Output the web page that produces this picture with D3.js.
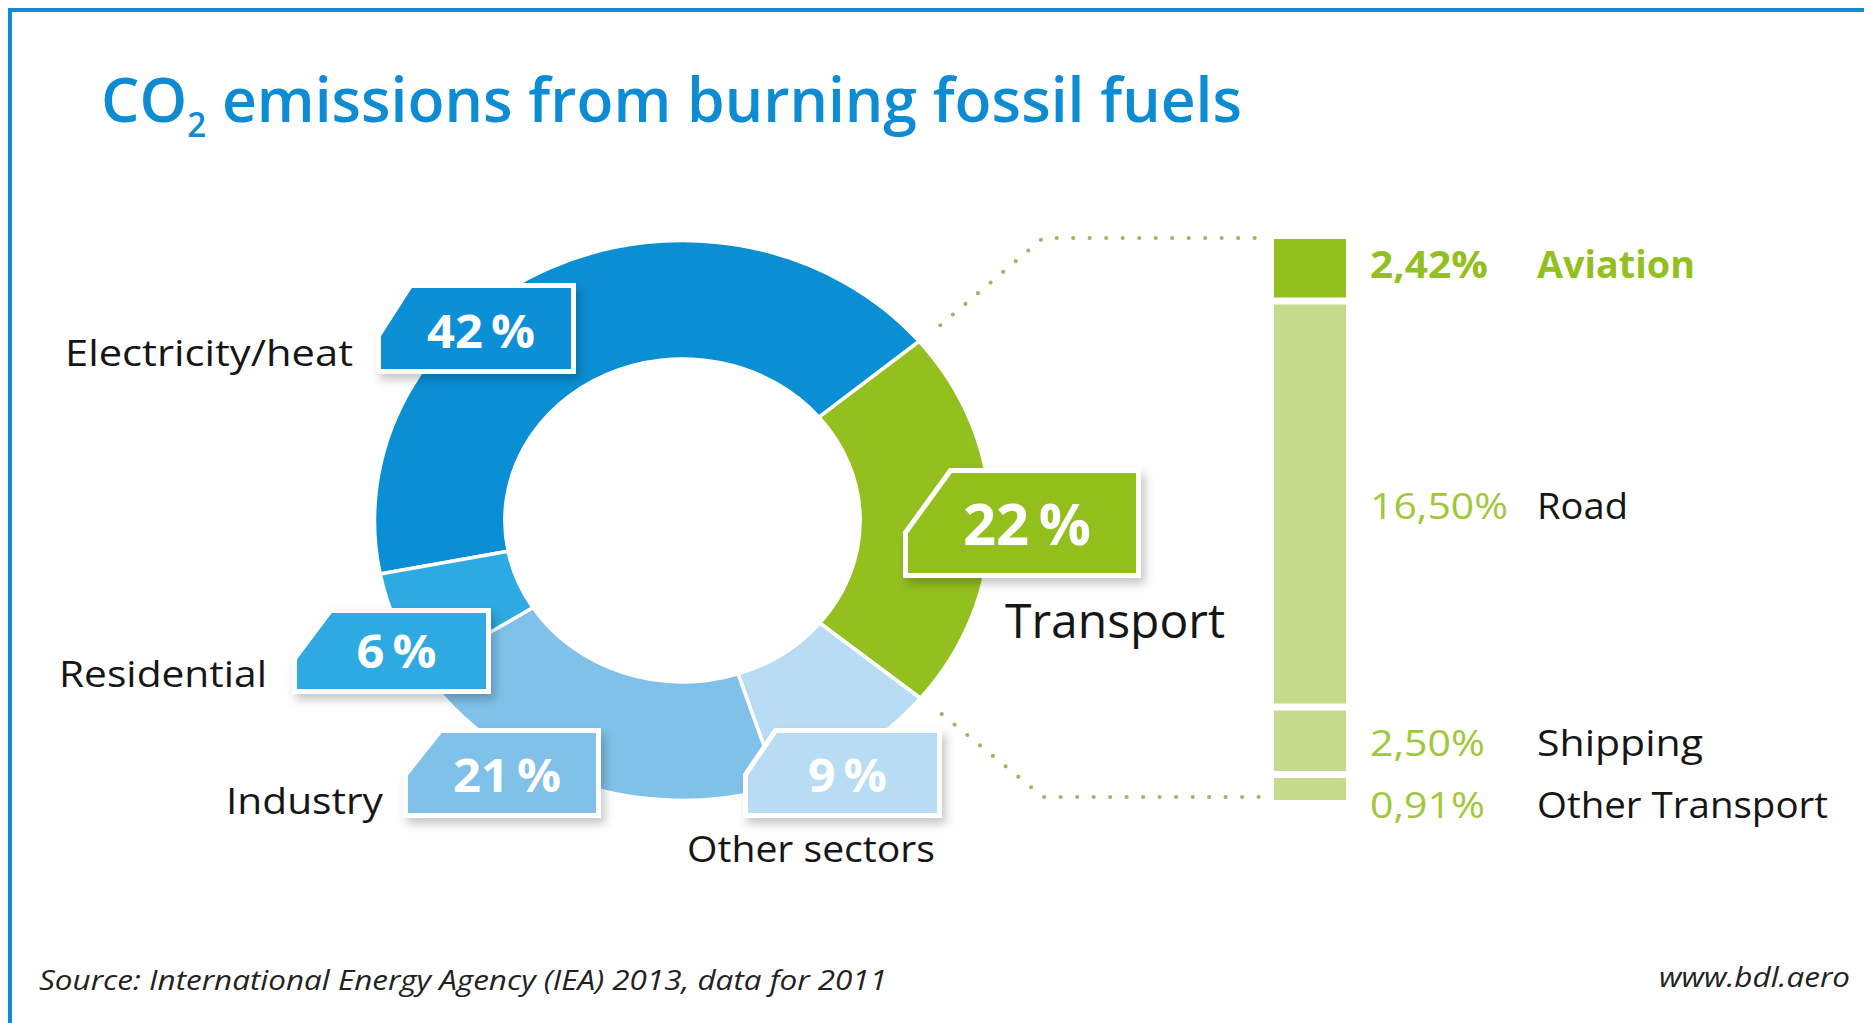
<!DOCTYPE html>
<html><head><meta charset="utf-8">
<script src="https://cdn.jsdelivr.net/npm/d3@7"></script>
<style>
html,body{margin:0;padding:0;background:#fff;}
svg{display:block;font-family:"Open Sans",sans-serif;}
</style>
</head><body>
<svg id="c" width="1864" height="1023"></svg>
<script>
// ---------- data ----------
const sectors = ["Electricity/heat", "Transport", "Other sectors", "Industry", "Residential"];
const sectorValues = [42, 22, 9, 21, 6];
const sectorLabels = ["42\u2009%", "22\u2009%", "9\u2009%", "21\u2009%", "6\u2009%"];
const transportModes = ["Aviation", "Road", "Shipping", "Other Transport"];
const transportValues = [2.42, 16.50, 2.50, 0.91];
const transportLabels = ["2,42%", "16,50%", "2,50%", "0,91%"];
const titleMain = "CO";
const titleSub = "2";
const titleRest = " emissions from burning fossil fuels";
const sourceText = "Source: International Energy Agency (IEA) 2013, data for 2011";
const siteText = "www.bdl.aero";

// ---------- styles ----------
const sectorColors = ["#0a8fd5", "#93bf1f", "#b9dcf5", "#80c1ea", "#2ea9e1"];
const modeColors = ["#93bf1f", "#c6da8c", "#c6da8c", "#c6da8c"];
const blue = "#0d8bd3";
const greenText = "#93bf1f";
const greenLight = "#9fc83a";
const dark = "#161616";

// ---------- layout ----------
const cx = 682.5, cy = 520.5, rOut = 280, rIn = 161.5, sx = 1.1;
const startDeg = -101;
const boxLayout = [
  {x0:376, y0:283, x1:576, y1:374, cw:32, ch:50, fs:46, tl:108, nx:65,  ny:366, nfs:36, nl:288},
  {x0:903, y0:468, x1:1141,y1:578, cw:45, ch:62, fs:58, tl:128, nx:1005,ny:638, nfs:47, nl:220},
  {x0:743, y0:728, x1:942, y1:818, cw:30, ch:44, fs:46, tl:79,  nx:687, ny:862, nfs:36, nl:248},
  {x0:403, y0:728, x1:601, y1:818, cw:35, ch:44, fs:46, tl:108, nx:226, ny:814, nfs:36, nl:157},
  {x0:292, y0:608, x1:491, y1:694, cw:36, ch:48, fs:46, tl:80,  nx:59,  ny:687, nfs:36, nl:208}
];
const bar = {x:1274, w:72, top:239, bottom:800, gap:7};
const modeText = {pctX:1370, nameX:1537, fs:37};
const modePctLen = [118, 138, 115, 115];
const modeNameLen = [158, 91, 166, 291];

const svg = d3.select("#c");
const defs = svg.append("defs");
const f = defs.append("filter").attr("id","sh").attr("x","-20%").attr("y","-20%").attr("width","150%").attr("height","170%");
f.append("feDropShadow").attr("dx",4).attr("dy",6).attr("stdDeviation",5).attr("flood-color","#000").attr("flood-opacity",0.22);

// frame
svg.append("rect").attr("x",8).attr("y",8).attr("width",1856).attr("height",4).attr("fill",blue);
svg.append("rect").attr("x",8).attr("y",8).attr("width",4).attr("height",1015).attr("fill",blue);

// title (one text element with subscript)
const title = svg.append("text").attr("x",101).attr("y",122).attr("font-size",62).attr("font-weight",600)
  .attr("fill",blue).attr("textLength",1141).attr("lengthAdjust","spacingAndGlyphs");
title.append("tspan").text(titleMain);
title.append("tspan").attr("dy",15).attr("font-size",34).text(titleSub);
title.append("tspan").attr("dy",-15).text(titleRest);

// donut
const pie = d3.pie().sort(null).value(d => d)
  .startAngle(startDeg * Math.PI / 180).endAngle((startDeg + 360) * Math.PI / 180);
const arcs = pie(sectorValues);
const arc = d3.arc().innerRadius(rIn).outerRadius(rOut);
const dg = svg.append("g").attr("transform", `translate(${cx},${cy}) scale(${sx},1)`);
dg.selectAll("path").data(arcs).join("path")
  .attr("d", arc)
  .attr("fill", (d, i) => sectorColors[i])
  .attr("stroke", "#fff").attr("stroke-width", 3.5)
  .attr("vector-effect", "non-scaling-stroke");

// dotted connectors from transport slice to bar
const tr = arcs[1];
const rc = 305;
const pt = a => [cx + sx * rc * Math.sin(a), cy - rc * Math.cos(a)];
const p1 = pt(tr.startAngle), p2 = pt(tr.endAngle);
const elbowX = 1043;
const conn = [
  [p1, [elbowX, bar.top - 1], [bar.x - 12, bar.top - 1]],
  [p2, [elbowX, bar.bottom - 3], [bar.x - 12, bar.bottom - 3]]
];
svg.selectAll("path.conn").data(conn).join("path").attr("class","conn")
  .attr("d", d3.line())
  .attr("fill","none").attr("stroke","#a3b55e").attr("stroke-width",4.2)
  .attr("stroke-linecap","round").attr("stroke-dasharray","0 16.5");

// label boxes
const boxPath = b => {
  const i = 2.5;
  return d3.line()([
    [b.x0 + i + b.cw, b.y0 + i], [b.x1 - i, b.y0 + i], [b.x1 - i, b.y1 - i],
    [b.x0 + i, b.y1 - i], [b.x0 + i, b.y0 + i + b.ch]
  ]) + "Z";
};
const bg = svg.append("g");
bg.selectAll("path").data(boxLayout).join("path")
  .attr("d", boxPath)
  .attr("fill", (d, i) => sectorColors[i])
  .attr("stroke", "#fff").attr("stroke-width", 5).attr("stroke-linejoin","miter")
  .attr("filter", "url(#sh)");
bg.selectAll("text.pct").data(boxLayout).join("text").attr("class","pct")
  .attr("x", d => (d.x0 + d.x1) / 2 + 5)
  .attr("y", d => d.y1 - (d.fs > 50 ? 33 : 26))
  .attr("text-anchor","middle")
  .attr("font-size", d => d.fs).attr("font-weight", 700).attr("fill", "#fff")
  .attr("textLength", d => d.tl).attr("lengthAdjust","spacingAndGlyphs")
  .text((d, i) => sectorLabels[i]);

// sector names
svg.selectAll("text.name").data(boxLayout).join("text").attr("class","name")
  .attr("x", d => d.nx).attr("y", d => d.ny)
  .attr("font-size", d => d.nfs).attr("fill", dark)
  .attr("textLength", d => d.nl).attr("lengthAdjust","spacingAndGlyphs")
  .text((d, i) => sectors[i]);

// transport breakdown bar
const total = d3.sum(transportValues);
const usable = (bar.bottom - bar.top) - bar.gap * (transportValues.length - 1);
const yh = d3.scaleLinear().domain([0, total]).range([0, usable]);
const cum = d3.cumsum(transportValues);
const segs = transportValues.map((v, i) => {
  const before = i === 0 ? 0 : cum[i - 1];
  const top = bar.top + yh(before) + bar.gap * i;
  return {v, i, top, h: yh(v)};
});
svg.selectAll("rect.seg").data(segs).join("rect").attr("class","seg")
  .attr("x", bar.x).attr("width", bar.w)
  .attr("y", d => d.top).attr("height", d => d.h)
  .attr("fill", d => modeColors[d.i]);

// bar labels
let prev = -1e9;
const labY = segs.map(d => {
  let yy = d.top + d.h / 2 + (d.i === 0 ? 10 : 15);
  if (yy < prev + 62) yy = prev + 62;
  prev = yy;
  return yy;
});
svg.selectAll("text.mp").data(segs).join("text").attr("class","mp")
  .attr("x", modeText.pctX).attr("y", d => labY[d.i])
  .attr("font-size", modeText.fs).attr("font-weight", d => d.i === 0 ? 700 : 400)
  .attr("fill", d => d.i === 0 ? greenText : greenLight)
  .attr("textLength", d => modePctLen[d.i]).attr("lengthAdjust","spacingAndGlyphs")
  .text(d => transportLabels[d.i]);
svg.selectAll("text.mn").data(segs).join("text").attr("class","mn")
  .attr("x", modeText.nameX).attr("y", d => labY[d.i])
  .attr("font-size", modeText.fs).attr("font-weight", d => d.i === 0 ? 700 : 400)
  .attr("fill", d => d.i === 0 ? greenText : dark)
  .attr("textLength", d => modeNameLen[d.i]).attr("lengthAdjust","spacingAndGlyphs")
  .text(d => transportModes[d.i]);

// footer
svg.append("text").attr("x",39).attr("y",990).attr("font-size",28).attr("font-style","italic")
  .attr("fill","#222").attr("textLength",848).attr("lengthAdjust","spacingAndGlyphs").text(sourceText);
svg.append("text").attr("x",1659).attr("y",987).attr("font-size",28).attr("font-style","italic")
  .attr("fill","#222").attr("textLength",191).attr("lengthAdjust","spacingAndGlyphs").text(siteText);
</script>
</body></html>
